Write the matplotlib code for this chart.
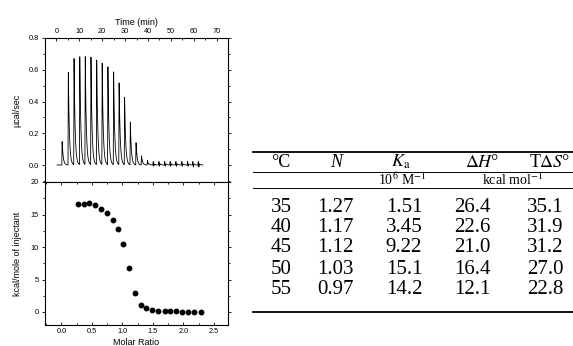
import numpy as np
import matplotlib
matplotlib.use("Agg")
import matplotlib.pyplot as plt
from matplotlib.lines import Line2D
from matplotlib.ticker import MultipleLocator

plt.rcParams['font.family'] = ['Liberation Sans', 'DejaVu Sans']
plt.rcParams['mathtext.fontset'] = 'stix'

# raw ITC trace: injection times (min), peak heights and small undershoots (ucal/sec)
inj_time = [2.5, 5.2, 7.7, 10.2, 12.6, 15.1, 17.6, 20.0, 22.5, 25.0, 27.4, 29.8, 32.3,
            34.8, 37.2, 39.8, 42.3, 44.8, 47.3, 49.7, 52.2, 54.8, 57.3, 59.6, 62.0]
peak_h = [0.15, 0.59, 0.67, 0.69, 0.69, 0.68, 0.67, 0.65, 0.62, 0.59, 0.52, 0.43, 0.27,
          0.14, 0.057, 0.03, 0.022, 0.022, 0.022, 0.022, 0.022, 0.022, 0.022, 0.022, 0.022]
dip_h = [0, 0, 0, 0, 0, 0, 0, 0, 0, 0, 0, 0, 0,
         0, 0, -0.01, -0.02, -0.02, -0.02, -0.02, -0.02, -0.02, -0.02, -0.025, -0.025]

# integrated heats
molar_ratio = [0.27, 0.37, 0.45, 0.55, 0.65, 0.74, 0.84, 0.92, 1.01, 1.10, 1.20, 1.30,
               1.39, 1.49, 1.59, 1.69, 1.78, 1.88, 1.98, 2.08, 2.18, 2.29]
heat = [16.6, 16.6, 16.7, 16.5, 15.8, 15.3, 14.1, 12.8, 10.4, 6.7, 3.0, 1.1,
        0.6, 0.35, 0.15, 0.1, 0.1, 0.1, 0.05, 0.02, 0.02, 0.02]

# table
col_head = ['°C', 'N', r'$K_{\mathrm{a}}$', r'$\Delta H$°', r'T$\Delta S$°']
temps = ['35', '40', '45', '50', '55']
n_vals = ['1.27', '1.17', '1.12', '1.03', '0.97']
ka_vals = ['1.51', '3.45', '9.22', '15.1', '14.2']
dh_vals = ['26.4', '22.6', '21.0', '16.4', '12.1']
tds_vals = ['35.1', '31.9', '31.2', '27.0', '22.8']

W, H = 573, 346
fig = plt.figure(figsize=(W / 100, H / 100), dpi=100)

def fx(px):
    return px / W

def fy(py):
    return 1 - py / H

ax1 = fig.add_axes([fx(45), fy(182), fx(228) - fx(45), fy(38) - fy(182)])
ax2 = fig.add_axes([fx(45), fy(325), fx(228) - fx(45), fy(182) - fy(325)])

# build trace from the peaks
t = np.linspace(0.3, 64, 6000)
y = np.zeros_like(t)
for t0, h, d in zip(inj_time, peak_h, dip_h):
    rise = (t >= t0 - 0.15) & (t < t0)
    y[rise] += h * (t[rise] - (t0 - 0.15)) / 0.15
    dec = t >= t0
    y[dec] += h * np.exp(-(t[dec] - t0) / 0.45)
    after = t >= t0 + 0.05
    y[after] += d * np.exp(-((t[after] - t0 - 0.25) / 0.12) ** 2)
ax1.plot(t, y, color='black', lw=0.6)

ax1.set_xlim(-5, 75)
ax1.set_ylim(-0.107, 0.8)
ax1.xaxis.tick_top()
ax1.xaxis.set_label_position('top')
ax1.set_xlabel('Time (min)', fontsize=6.5, labelpad=2)
ax1.set_ylabel('µcal/sec', fontsize=6.5, labelpad=5)
ax1.xaxis.set_major_locator(MultipleLocator(10))
ax1.xaxis.set_minor_locator(MultipleLocator(5))
ax1.yaxis.set_major_locator(MultipleLocator(0.2))
ax1.yaxis.set_minor_locator(MultipleLocator(0.1))
ax1.yaxis.set_major_formatter(plt.FuncFormatter(lambda v, p: f'{v:.1f}'))

ax2.plot(molar_ratio, heat, 'o', color='black', ms=3.2)
ax2.set_xlim(-0.27, 2.73)
ax2.set_ylim(-2, 20)
ax2.set_xlabel('Molar Ratio', fontsize=6.5, labelpad=2)
ax2.set_ylabel('kcal/mole of injectant', fontsize=6.5, labelpad=6)
ax2.xaxis.set_major_locator(MultipleLocator(0.5))
ax2.xaxis.set_minor_locator(MultipleLocator(0.25))
ax2.yaxis.set_major_locator(MultipleLocator(5))
ax2.yaxis.set_minor_locator(MultipleLocator(2.5))
ax2.xaxis.set_major_formatter(plt.FuncFormatter(lambda v, p: f'{v:.1f}'))

for ax in (ax1, ax2):
    for s in ax.spines.values():
        s.set_linewidth(0.8)
    ax.tick_params(which='both', labelsize=5.3, width=0.6, pad=2)
    ax.tick_params(which='major', length=2.5)
    ax.tick_params(which='minor', length=1.3)
    ax.tick_params(axis='y', which='both', left=True, right=True, direction='in')
    ax.tick_params(axis='y', which='both', left=True, direction='out')
ax1.tick_params(axis='x', which='both', top=True, bottom=False, direction='in')
ax2.tick_params(axis='x', which='both', top=True, bottom=True, direction='in')

# table
serif = ['Liberation Serif', 'DejaVu Serif']
col_x = [281, 336, 401, 482, 550]
fig.text(fx(col_x[0]), fy(162), col_head[0], family=serif, fontsize=13, ha='center', va='center')
fig.text(fx(col_x[1]), fy(162), col_head[1], family=serif, style='italic', fontsize=13, ha='center', va='center')
for x, s in zip(col_x[2:], col_head[2:]):
    fig.text(fx(x), fy(162), s, family=serif, fontsize=13, ha='center', va='center')
fig.text(fx(402), fy(179.5), r'10$^{6}$ M$^{-1}$', family=serif, fontsize=10, ha='center', va='center')
fig.text(fx(512), fy(179.5), r'kcal mol$^{-1}$', family=serif, fontsize=10, ha='center', va='center')

row_y = [208, 228, 248, 269, 289]
cols = [temps, n_vals, ka_vals, dh_vals, tds_vals]
data_x = [281, 335, 404, 472, 545]
for x, col in zip(data_x, cols):
    for yy, s in zip(row_y, col):
        fig.text(fx(x), fy(yy), s, family=serif, fontsize=15, ha='center', va='center')

for yy, lw in [(151.7, 1.3), (171.5, 0.7), (187.5, 0.7), (312, 1.3)]:
    fig.add_artist(Line2D([fx(253), 1.0], [fy(yy), fy(yy)], color='black', lw=lw))

fig.savefig('out.png', dpi=100)
